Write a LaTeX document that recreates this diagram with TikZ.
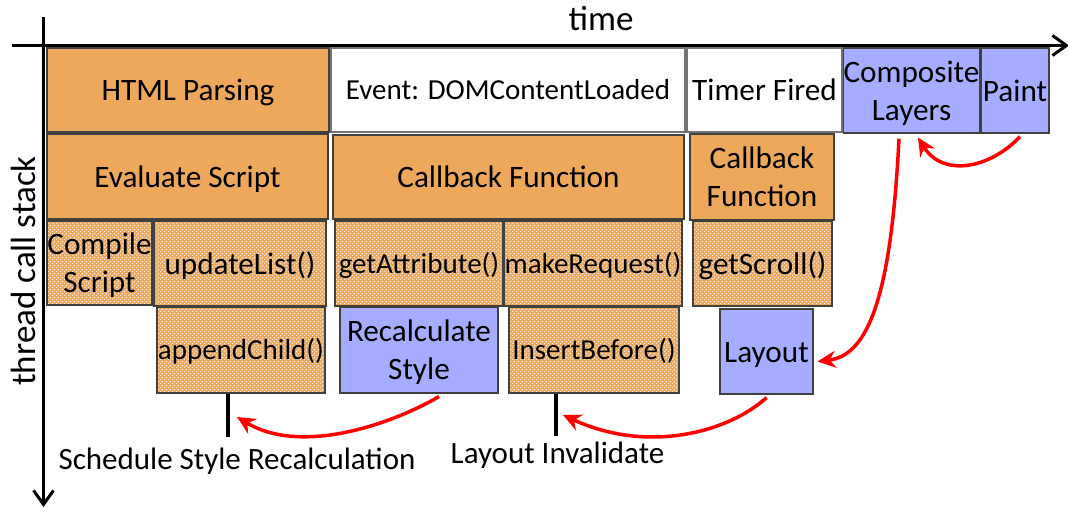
\documentclass[tikz,border=0pt]{standalone}
\usepackage{fontspec}
\setmainfont{Carlito}
\usetikzlibrary{arrows.meta,patterns,calc}
\definecolor{taskorange}{RGB}{237,168,92}
\definecolor{renderblue}{RGB}{166,172,255}
\definecolor{flowred}{RGB}{255,0,0}
% strut giving each text line the ascent and descent of the font's line box
\newcommand\lnstrut{\rule[-0.269em]{0pt}{1.221em}}
% dense dot texture for nested calls
\pgfdeclarepatternformonly{call dots}{\pgfqpoint{0pt}{0pt}}{\pgfqpoint{4pt}{4pt}}{\pgfqpoint{4pt}{4pt}}{%
  \pgfpathcircle{\pgfqpoint{1pt}{1pt}}{0.85pt}%
  \pgfpathcircle{\pgfqpoint{3pt}{3pt}}{0.85pt}%
  \pgfusepath{fill}}

\begin{document}
\begin{tikzpicture}[x=1pt,y=-1pt,
  box/.style={draw=black!75, line width=1.2pt, inner sep=0pt, align=center,
    font=\fontsize{31.2}{38.1}\selectfont},
  smalltext/.style={font=\fontsize{29}{35.4}\selectfont},
  wh/.style 2 args={minimum width=#1, minimum height=#2},
  solid task/.style={box, fill=taskorange},
  sub task/.style={box, preaction={fill=taskorange}, pattern=call dots, pattern color=white!92!taskorange},
  render task/.style={box, fill=renderblue},
  event task/.style={box, fill=white, draw=black!55},
  axis/.style={line width=3pt, -{Straight Barb[length=14pt,width=20pt]}},
  tickline/.style={line width=3.5pt},
  flow/.style={draw=flowred, line width=3.5pt, -{Stealth[length=18pt,width=17pt]}},
  note/.style={font=\fontsize{31}{37.8}\selectfont},
  axis label/.style={font=\fontsize{35}{42}\selectfont},
]
\useasboundingbox (0,0) rectangle (1068,508);

% axes
\draw[axis] (12,45.5) -- (1069,45.5);
\draw[axis] (43.5,17) -- (43.5,507);
\node[axis label, anchor=base] (timeLabel) at (601,31) {time};
\node[axis label, anchor=base, rotate=90] (stackLabel) at (35.5,271) {thread call stack};

% row 1
\node[solid task, wh={282}{84}] (html) at (188,90) {\lnstrut HTML Parsing};
\node[event task, wh={354}{84}, smalltext] (event) at (508,90) {\lnstrut Event: DOMContentLoaded};
\node[event task, wh={155}{84}] (timer) at (764.5,90) {\lnstrut Timer Fired};
\node[render task, wh={135}{85}] (comp) at (911.5,90.5) {\lnstrut Composite\\\lnstrut Layers};
\node[render task, wh={68}{85}] (paint) at (1015,90.5) {\lnstrut Paint};

% row 2
\node[solid task, wh={281}{85}] (evals) at (187.5,176.5) {\lnstrut Evaluate Script};
\node[solid task, wh={351}{84}] (cbA) at (508.5,177) {\lnstrut Callback Function};
\node[solid task, wh={144}{86}] (cbB) at (762,177) {\lnstrut Callback\\\lnstrut Function};

% row 3
\node[sub task, wh={105}{84}] (compile) at (99.5,263) {\lnstrut Compile\\\lnstrut Script};
\node[sub task, wh={172}{85}] (update) at (240,263.5) {\lnstrut updateList()};
\node[sub task, wh={168}{85}, smalltext] (getattr) at (419,263.5) {\lnstrut getAttribute()};
\node[sub task, wh={178}{85}, smalltext] (makereq) at (593,263.5) {\lnstrut makeRequest()};
\node[sub task, wh={139}{85}] (getscroll) at (762.5,263.5) {\lnstrut getScroll()};

% row 4
\node[sub task, wh={168}{86}, smalltext] (append) at (241,350) {\lnstrut appendChild()};
\node[render task, wh={158}{86}] (recalc) at (419,350) {\lnstrut Recalculate\\\lnstrut Style};
\node[sub task, wh={170}{86}, smalltext] (insert) at (594,350) {\lnstrut InsertBefore()};
\node[render task, wh={93}{85}] (layout) at (766.5,351.5) {\lnstrut Layout};

% markers below the stack
\coordinate (schedMark) at (228,437);
\coordinate (invMark) at (556,436);
\draw[tickline] (schedMark |- append.south) -- (schedMark);
\draw[tickline] (invMark |- insert.south) -- (invMark);
\node[note, anchor=base] (schedLabel) at (237,469) {Schedule Style Recalculation};
\node[note, anchor=base] (invLabel) at (557.5,463) {Layout Invalidate};

% arrow targets beside the markers
\coordinate (schedTip) at (237,417);
\coordinate (invTip) at (563,415);

% red flow arrows
\draw[flow] ([xshift=20pt,yshift=-3pt]recalc.south) .. controls +(-50,29) and +(63,38) .. (schedTip);
\draw[flow] ([yshift=-3pt]layout.south) .. controls +(-36,33) and +(87,40) .. (invTip);
\draw[flow] ([xshift=-12.5pt,yshift=-5pt]comp.south) .. controls +(-8,160) and +(50,-6) .. ([xshift=4pt,yshift=-10pt]layout.east);
\draw[flow] ([xshift=5pt,yshift=-3pt]paint.south) .. controls +(-30,32) and +(25,40) .. ([xshift=6.5pt,yshift=-4pt]comp.south);
\end{tikzpicture}
\end{document}
